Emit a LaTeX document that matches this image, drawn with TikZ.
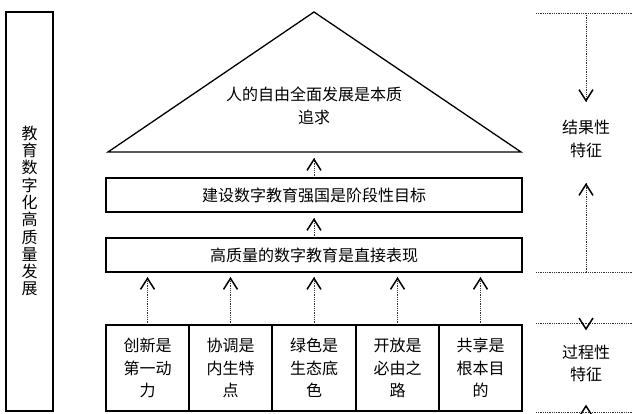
\documentclass[tikz,border=0pt]{standalone}
\usepackage{fontspec}
\newfontfamily\cjk{Noto Sans CJK SC}
\usetikzlibrary{arrows.meta,decorations.markings}
\begin{document}
\begin{tikzpicture}[x=1pt,y=-1pt,
  box/.style={draw,line width=1.3pt,inner sep=0pt,outer sep=0pt},
  txt/.style={font=\cjk\fontsize{16}{22.5}\selectfont,align=center,inner sep=0pt},
  dotline/.style={line width=0.9pt,dash pattern=on 0.9pt off 0.9pt,black!80},
  vhead/.style={line width=1.5pt,line join=miter},
  arr/.style={dotline,shorten >=#1,
    postaction={decorate,decoration={markings,
      mark=at position -#1 with {\pgfsetdash{}{0pt}\pgfsetcolor{black}\arrow[line width=1.5pt]{Straight Barb[length=11pt,width=14pt]}}}}},
  arr/.default=0.01pt]
\useasboundingbox (0,0) rectangle (639,414);
% left box
\node[box,minimum width=47pt,minimum height=399pt] (left) at (29.5,211.5) {};
\node[txt,font=\cjk\fontsize{16}{17.3}\selectfont] (lefttxt) at (29.5,211) {教\\育\\数\\字\\化\\高\\质\\量\\发\\展};
% triangle
\coordinate (apex) at (314,12);
\coordinate (bl) at (108,152);
\coordinate (br) at (521,152);
\coordinate (tribase) at (314,152);
\draw[line width=1.3pt,line join=miter] (apex) -- (bl) -- (br) -- cycle;
\node[txt] (tri) at (314,106) {人的自由全面发展是本质\\追求};
% middle boxes
\node[box,minimum width=416pt,minimum height=34pt] (b2) at (314,195) {};
\node[txt] at (b2) {建设数字教育强国是阶段性目标};
\node[box,minimum width=416pt,minimum height=34pt] (b3) at (314,255) {};
\node[txt] at (b3) {高质量的数字教育是直接表现};
% bottom boxes
\foreach \i/\cx/\w/\t in {1/147.5/83/{创新是\\第一动\\力},2/230.5/83/{协调是\\内生特\\点},3/314/84/{绿色是\\生态底\\色},4/397.5/83/{开放是\\必由之\\路},5/480.5/83/{共享是\\根本目\\的}}{
  \node[box,minimum width=\w pt,minimum height=86pt] (s\i) at (\cx,368) {};
  \node[txt] at (s\i) {\t};
}
% arrows
\foreach \i in {1,...,5}{
  \draw[arr=5pt] (s\i.north) -- (s\i.north |- b3.south);
}
\draw[arr=6pt] (b3.north) -- (b2.south);
\draw[arr=6pt] (b2.north) -- (tribase);
% right side
\coordinate (l1a) at (536,13); \coordinate (l1b) at (632,13);
\coordinate (l2a) at (536,272); \coordinate (l2b) at (632,272);
\coordinate (l3a) at (536,323); \coordinate (l3b) at (632,323);
\coordinate (l4a) at (536,412); \coordinate (l4b) at (632,412);
\foreach \a/\b in {l1a/l1b,l2a/l2b,l3a/l3b,l4a/l4b}{\draw[dotline] (\a) -- (\b);}
\coordinate (t1) at (586,13);
\coordinate (t2) at (586,102);
\coordinate (t3) at (586,272);
\coordinate (t4) at (586,183);
\node[txt,font=\cjk\fontsize{16}{23}\selectfont] (res) at (586,139) {结果性\\特征};
\node[txt,font=\cjk\fontsize{16}{22}\selectfont] (proc) at (586,363) {过程性\\特征};
\draw[arr] (t1) -- (t2);
\draw[arr] (t3) -- (t4);
\coordinate (t6) at (586,329);
\coordinate (t8) at (586,406);
\draw[vhead] (t6) ++(-7,-11) -- (t6) -- ++(7,-11);
\draw[vhead] (t8) ++(-7,11) -- (t8) -- ++(7,11);
\end{tikzpicture}
\end{document}
